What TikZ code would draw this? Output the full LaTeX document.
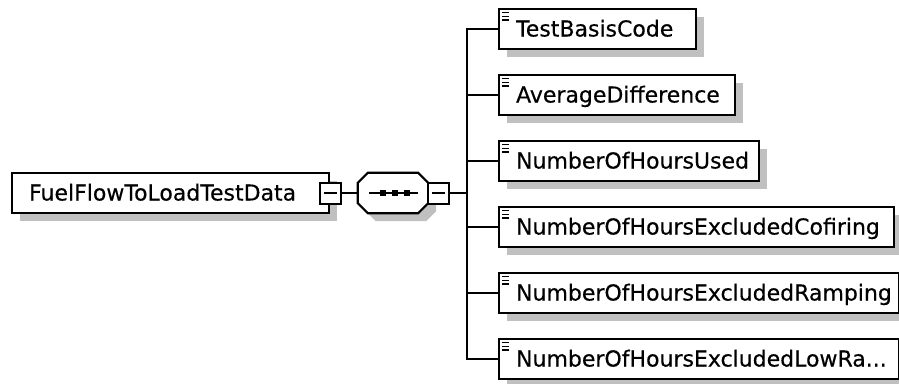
\documentclass[tikz,border=0pt]{standalone}
\usepackage{fontspec}
\setmainfont{DejaVu Sans}[BoldFont={DejaVu Sans},BoldFeatures={FakeBold=0.4}]
\usetikzlibrary{shadows}
\definecolor{shade}{RGB}{192,192,192}
\newcommand\lowratext{NumberOfHoursExcludedLowRa...}
\tikzset{
  shad/.style={drop shadow={shadow xshift=8pt,shadow yshift=-8pt,fill=shade,opacity=1}},
  elem/.style={draw,line width=2.2pt,fill=white,anchor=west,minimum height=40pt,
    inner xsep=17pt,inner ysep=0pt,align=left,text height=16pt,text depth=1pt,
    font=\fontsize{22}{26}\selectfont\bfseries,execute at begin node={\hyphenpenalty=10000},shad},
  attr/.style={elem,path picture={
    \foreach \k in {3.5,7.5,11}
      \draw[line width=1.6pt] ([shift={(3,\k)}]path picture bounding box.north west) -- ++(7,0);}},
  tog/.style={draw,line width=2pt,fill=white,minimum size=21pt,inner sep=0pt,
    path picture={\draw[line width=2pt] ([xshift=4pt]path picture bounding box.west)
      -- ([xshift=-4pt]path picture bounding box.east);}},
  seqbox/.style={minimum width=70pt,minimum height=40pt,inner sep=0pt},
  conn/.style={line width=2.2pt,line cap=rect}
}
\begin{document}
\begin{tikzpicture}[x=1pt,y=-1pt]
\fill[white] (0,0) rectangle (899,383);
\useasboundingbox (0,0) rectangle (899,383);
\node[elem,text width=283pt] (root) at (11,193) {FuelFlowToLoadTestData};
\node[tog] (rtog) at (root.east) {};
\node[seqbox] (seq) at (393,193) {};
% sequence compositor
\draw[line width=2.2pt,fill=white,shad] ([xshift=10pt]seq.north west) -- ([xshift=-10pt]seq.north east)
  -- ([yshift=-10pt]seq.north east) -- ([yshift=10pt]seq.south east) -- ([xshift=-10pt]seq.south east)
  -- ([xshift=10pt]seq.south west) -- ([yshift=10pt]seq.south west) -- ([yshift=-10pt]seq.north west) -- cycle;
\draw[line width=2.2pt] ([xshift=-24pt]seq.center) -- ([xshift=25pt]seq.center);
\foreach \d in {-10,2,14}
  \fill ([xshift=\d pt]seq.center) +(-3,-3) rectangle +(3,3);
\node[tog] (stog) at (438,193) {};
\coordinate (bus) at (467,193);
\draw[conn] (rtog) -- (seq);
\draw[conn] (stog) -- (bus);
\foreach \w/\t [count=\i] in {163/TestBasisCode,202/AverageDifference,226/NumberOfHoursUsed,
    361/NumberOfHoursExcludedCofiring,366/NumberOfHoursExcludedRamping,366/\lowratext}{
  \node[attr,text width=\w pt] (c\i) at (498,{29+66*(\i-1)}) {\t};
  \draw[conn] (bus |- c\i.west) -- (c\i.west);
}
\draw[conn] (bus |- c1.west) -- (bus |- c6.west);
\end{tikzpicture}
\end{document}
